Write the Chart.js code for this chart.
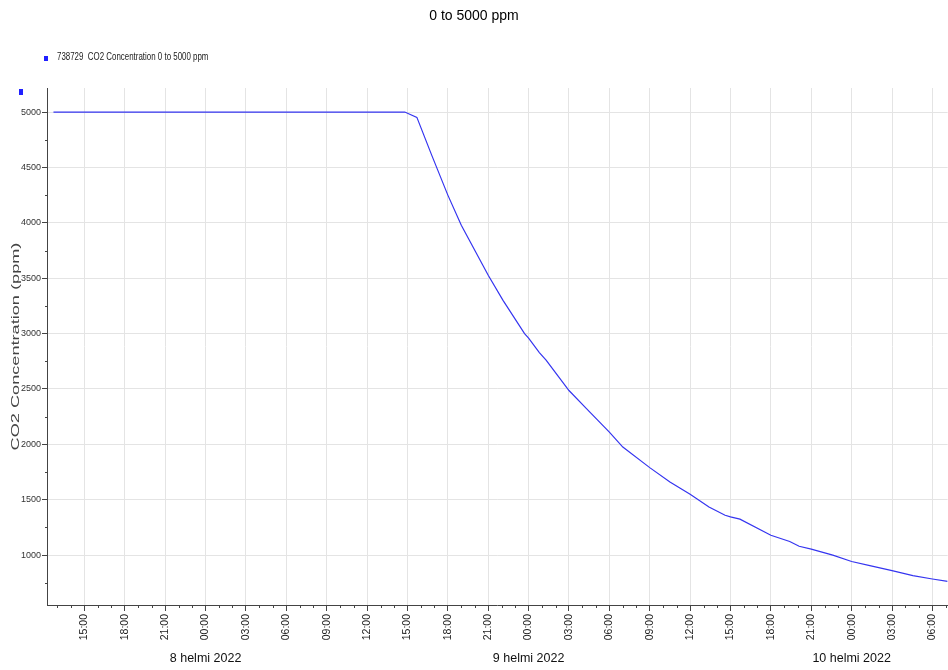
<!DOCTYPE html>
<html>
<head>
<meta charset="utf-8">
<script src="https://cdn.jsdelivr.net/npm/chart.js@4.4.1/dist/chart.umd.min.js"></script>
<style>
  body { margin: 0; background: #fff; }
</style>
</head>
<body>
<canvas id="co2Chart" width="948" height="670"></canvas>
<script>
// hours counted from 00:00, 8 Feb 2022
const hours = [-11.3, 14.8, 15.7, 16.8, 18, 19, 21, 22.1, 23.7, 24, 24.8, 25.3, 27, 28.3, 30, 31, 33, 34.5, 36, 37.4, 38.6, 39, 39.7, 42, 43.4, 44.1, 45, 46.6, 48, 49.35, 51, 52.55, 54, 55.13];
const co2 = [5000, 5000, 4952, 4611, 4250, 3978, 3526, 3300, 3000, 2960, 2829, 2760, 2486, 2322, 2110, 1976, 1790, 1660, 1549, 1434, 1360, 1345, 1325, 1180, 1123, 1080, 1055, 1000, 943, 905, 860, 815, 785, 763];

const hourTicks = [-9, -6, -3, 0, 3, 6, 9, 12, 15, 18, 21, 24, 27, 30, 33, 36, 39, 42, 45, 48, 51, 54];
const dayTicks = [0, 24, 48];
const dayLabels = ['8 helmi 2022', '9 helmi 2022', '10 helmi 2022'];
const yTicks = [1000, 1500, 2000, 2500, 3000, 3500, 4000, 4500, 5000];

const seriesLabel = '738729  CO2 Concentration 0 to 5000 ppm';
const yTitle = 'CO2 Concentration (ppm)';

const xMin = -11.78, xMax = 55.13;

function hourLabel(v) {
    const h = ((v % 24) + 24) % 24;
    return (h < 10 ? '0' : '') + h + ':00';
}

// minor ticks, legend line and rotated axis title
const extras = {
    id: 'extras',
    afterDraw(chart) {
        const ctx = chart.ctx;
        const xs = chart.scales.x;
        const ys = chart.scales.y;
        const area = chart.chartArea;
        ctx.save();
        ctx.strokeStyle = '#444';
        ctx.lineWidth = 1;
        ctx.beginPath();
        for (let h = Math.ceil(xMin); h <= xMax; h++) {
            if (h % 3 === 0) continue;
            const px = Math.round(xs.getPixelForValue(h)) + 0.5;
            ctx.moveTo(px, area.bottom);
            ctx.lineTo(px, area.bottom + 3);
        }
        for (let v = 750; v < ys.max; v += 500) {
            if (v < ys.min) continue;
            const py = Math.round(ys.getPixelForValue(v)) + 0.5;
            ctx.moveTo(area.left - 2, py);
            ctx.lineTo(area.left, py);
        }
        ctx.stroke();

        // legend
        ctx.fillStyle = '#2020ff';
        ctx.fillRect(44, 56, 4, 5);
        ctx.fillRect(19, 89, 4, 6);
        ctx.save();
        ctx.translate(57, 60);
        ctx.scale(0.72, 1);
        ctx.fillStyle = '#222';
        ctx.font = '11px "Liberation Sans", Arial, sans-serif';
        ctx.textBaseline = 'alphabetic';
        ctx.textAlign = 'left';
        ctx.fillText(seriesLabel, 0, 0);
        ctx.restore();

        // y axis title
        ctx.translate(15.5, (area.top + area.bottom) / 2);
        ctx.rotate(-Math.PI / 2);
        ctx.scale(1.65, 1);
        ctx.font = '11px "Liberation Sans", Arial, sans-serif';
        ctx.fillStyle = '#444';
        ctx.textAlign = 'center';
        ctx.textBaseline = 'middle';
        ctx.fillText(yTitle, 0, 0);
        ctx.restore();
    }
};

const ctx = document.getElementById('co2Chart');

const co2Chart = new Chart(ctx, {
    type: 'line',
    data: {
        datasets: [{
            label: seriesLabel,
            data: hours.map((h, i) => ({ x: h, y: co2[i] })),
            borderColor: '#3535f0',
            borderWidth: 1.2,
            pointRadius: 0,
            tension: 0,
            fill: false
        }]
    },
    options: {
        responsive: false,
        animation: false,
        layout: { padding: 0 },
        plugins: {
            legend: { display: false },
            tooltip: { enabled: false },
            title: {
                display: true,
                text: '0 to 5000 ppm',
                color: '#000',
                font: { family: '"Liberation Sans", Arial, sans-serif', size: 14, weight: 'normal' },
                padding: { top: 8, bottom: 63.2 }
            }
        },
        scales: {
            x: {
                type: 'linear',
                position: 'bottom',
                min: xMin,
                max: xMax,
                afterBuildTicks: s => { s.ticks = hourTicks.map(v => ({ value: v })); },
                afterFit: s => { s.height = 42; },
                ticks: {
                    autoSkip: false,
                    minRotation: 90,
                    maxRotation: 90,
                    padding: 3,
                    color: '#222',
                    font: { family: '"Liberation Sans", Arial, sans-serif', size: 10.5 },
                    callback: v => hourLabel(v)
                },
                grid: { color: '#e4e4e4', tickColor: '#444', tickLength: 6 },
                border: { color: '#444' }
            },
            x2: {
                type: 'linear',
                position: 'bottom',
                min: xMin,
                max: xMax,
                afterBuildTicks: s => { s.ticks = dayTicks.map(v => ({ value: v })); },
                afterFit: s => { s.height = 23; },
                ticks: {
                    autoSkip: false,
                    minRotation: 0,
                    maxRotation: 0,
                    padding: 4,
                    color: '#111',
                    font: { family: '"Liberation Sans", Arial, sans-serif', size: 12.5 },
                    callback: v => dayLabels[dayTicks.indexOf(v)]
                },
                grid: { display: false, drawTicks: false },
                border: { display: false }
            },
            y: {
                min: 550,
                max: 5217,
                afterBuildTicks: s => { s.ticks = yTicks.map(v => ({ value: v })); },
                afterFit: s => { s.width = 47; },
                ticks: {
                    padding: 1,
                    color: '#333',
                    font: { family: '"Liberation Sans", Arial, sans-serif', size: 9 },
                    callback: v => String(v)
                },
                grid: { color: '#e4e4e4', tickColor: '#444', tickLength: 5 },
                border: { color: '#444' }
            }
        }
    },
    plugins: [extras]
});
</script>
</body>
</html>
